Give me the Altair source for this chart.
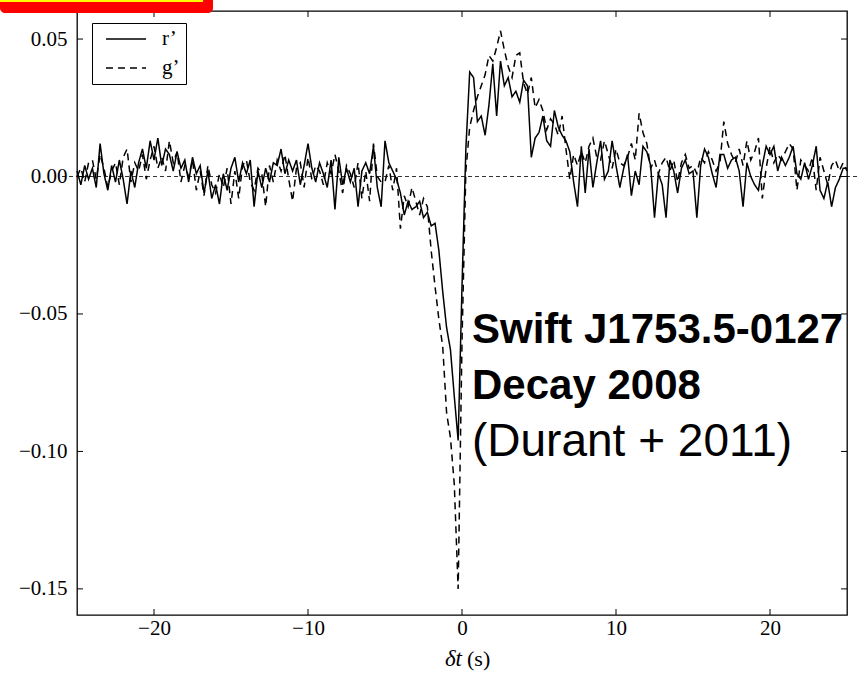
import altair as alt
import pandas as pd

# time sampling (s)
T_START = -25.0
T_STEP = 0.25

# r' light-curve cross-correlation values, units of 1e-3
r_vals = [
    2, -3, 4, -1,
    3, -4, 12, 1,
    -5, 4, -2, 6,
    -1, -10, 2, -4,
    5, 10, 3, 13,
    6, 14, 4, 10,
    8, 2, 9, 3,
    6, -2, 7, 1,
    4, -6, 2, -8,
    -3, -10, 1, -5,
    3, 7, -2, 5,
    1, 6, -11, 2,
    -4, 3, -2, 5,
    4, 10, 1, 6,
    2, 6, -3, 4,
    12, 3, -2, 5,
    1, -4, 6, -12,
    7, -3, 3, -2,
    3, -11, 2, 5,
    1, 11, -4, -11,
    13, 5, 2, -1,
    -6, -14, -9, -12,
    -11, -9, -15, -13,
    -18, -17, -27, -42,
    -55, -63, -80, -96,
    -40, 10, 38, 36,
    20, 22, 15, 26,
    41, 22, 42, 33,
    36, 29, 31, 27,
    35, 33, 7, 14,
    16, 22, 13, 11,
    24, 18, 15, 13,
    9, -2, -11, 11,
    -6, 10, -4, 5,
    13, -1, 2, 13,
    4, -4, 3, 8,
    -7, 2, -3, 11,
    9, 4, -15, 1,
    -3, -15, 6, 2,
    -6, 3, 6, 1,
    2, -15, 4, 10,
    7, 1, -4, 8,
    8, 3, 6, 7,
    2, -11, 5, 0,
    -3, -5, 4, 11,
    8, 11, 2, 7,
    4, 7, 11, 1,
    -1, 5, -1, 4,
    11, -5, -8, -2,
    -11, -4, -1, 3,
    3,
]

# g' values, units of 1e-3
g_vals = [
    0, 3, -2, 5,
    6, -1, 8, 3,
    -4, 2, 5, -3,
    7, 10, -2, 5,
    2, 8, -1, 6,
    11, 3, 7, 2,
    13, 5, 9, -2,
    4, 0, 6, -5,
    2, -7, 4, -3,
    -6, 1, -4, 3,
    -10, 2, -8, 4,
    6, -2, -5, 3,
    1, -11, 4, -2,
    6, 2, 8, -1,
    -9, 3, 5, -4,
    7, -1, 4, 2,
    -3, 5, 1, 8,
    2, -6, 4, 1,
    -4, 5, -8, 2,
    -9, 12, 0, -2,
    -2, 4, -5, 3,
    -19, -7, -11, -4,
    -9, -14, -8, -11,
    -27, -40, -52, -62,
    -86, -95, -112, -150,
    -60, 2, 18, 24,
    29, 33, 37, 44,
    42, 47, 53, 46,
    40, 36, 44, 45,
    34, 30, 36, 25,
    28, 24, 17, 21,
    19, 15, 22, 10,
    -1, 8, 4, 9,
    5, 11, 14, 7,
    6, 13, 8, 3,
    10, 5, 4, 7,
    12, 6, 23, 16,
    12, 3, 6, 1,
    5, 7, 2, 6,
    -2, 5, 8, 3,
    4, 1, 7, 5,
    9, 6, 2, 5,
    20, 12, 8, 5,
    10, 4, 13, 6,
    9, 14, -8, 3,
    11, 5, 8, 6,
    9, 12, 10, -5,
    6, 4, 2, 7,
    -5, 7, 2, -3,
    4, 6, 2, 5,
    2,
]

series_names = ["r\u2019", "g\u2019"]
x_ticks = [-20, -10, 0, 10, 20]
y_ticks = [-0.15, -0.10, -0.05, 0.00, 0.05]
x_domain = [-25, 25]
y_domain = [-0.1595, 0.0602]

annot_lines = ["Swift J1753.5-0127", "Decay 2008", "(Durant + 2011)"]
annot_weights = ["bold", "bold", "normal"]
annot_sizes = [42, 42, 46]

W, H = 770, 604

rows = []
for name, vals in zip(series_names, [r_vals, g_vals]):
    for i, v in enumerate(vals):
        rows.append({"t": round(T_START + T_STEP * i, 3), "v": v / 1000.0, "series": name})
df = pd.DataFrame(rows)

xs = alt.Scale(domain=x_domain, nice=False, zero=False)
ys = alt.Scale(domain=y_domain, nice=False, zero=False)

serif = "Liberation Serif"
sans = "Liberation Sans"

lines = alt.Chart(df).mark_line(color="black", strokeWidth=1.5).encode(
    x=alt.X("t:Q", scale=xs,
            axis=alt.Axis(values=x_ticks, format="d", title=None, ticks=False, domain=False,
                          grid=False, labelFont=serif, labelFontSize=21, labelColor="black",
                          labelPadding=2)),
    y=alt.Y("v:Q", scale=ys,
            axis=alt.Axis(values=y_ticks, format=".2f", title=None, ticks=False, domain=False,
                          grid=False, labelFont=serif, labelFontSize=21, labelColor="black",
                          labelPadding=10)),
    strokeDash=alt.StrokeDash(
        "series:N",
        scale=alt.Scale(domain=series_names, range=[[1, 0], [7, 5]]),
        sort=series_names,
        legend=alt.Legend(title=None, orient="none", legendX=15, legendY=12,
                          fillColor="white", strokeColor="black", padding=6,
                          symbolType="stroke", symbolSize=1600, symbolStrokeWidth=1.4,
                          symbolStrokeColor="black", symbolOffset=7, clipHeight=20,
                          labelFont=serif, labelFontSize=21,
                          labelColor="black", rowPadding=8, labelOffset=15,
                          labelExpr="datum.label + '     '",
                          cornerRadius=0),
    ),
    order="t:Q",
)

one = pd.DataFrame({"k": [0]})

zero_rule = alt.Chart(one).mark_rule(color="black", strokeWidth=0.8, strokeDash=[4, 3]).encode(
    y=alt.datum(0, scale=ys), x=alt.value(-15), x2=alt.value(W + 10)
)

xt = pd.DataFrame({"x": x_ticks})
yt = pd.DataFrame({"y": y_ticks})
tick_style = dict(color="black", strokeWidth=1)
xtick_b = alt.Chart(xt).mark_rule(**tick_style).encode(
    x=alt.X("x:Q", scale=xs), y=alt.value(H), y2=alt.value(H - 6))
xtick_t = alt.Chart(xt).mark_rule(**tick_style).encode(
    x=alt.X("x:Q", scale=xs), y=alt.value(0), y2=alt.value(6))
ytick_l = alt.Chart(yt).mark_rule(**tick_style).encode(
    y=alt.Y("y:Q", scale=ys), x=alt.value(0), x2=alt.value(6))
ytick_r = alt.Chart(yt).mark_rule(**tick_style).encode(
    y=alt.Y("y:Q", scale=ys), x=alt.value(W), x2=alt.value(W - 6))

xtitle1 = alt.Chart(one).mark_text(text="\u03b4t", font=serif, fontStyle="italic", fontSize=23,
                                   align="right", baseline="middle", color="black").encode(
    x=alt.value(385), y=alt.value(H + 44))
xtitle2 = alt.Chart(one).mark_text(text="(s)", font=serif, fontSize=22,
                                   align="left", baseline="middle", color="black").encode(
    x=alt.value(390), y=alt.value(H + 44))

annots = []
for i, (txt, wt, fs) in enumerate(zip(annot_lines, annot_weights, annot_sizes)):
    annots.append(
        alt.Chart(one).mark_text(text=txt, font=sans, fontWeight=wt, fontSize=fs,
                                 align="left", baseline="middle", color="black").encode(
            x=alt.value(395), y=alt.value(319 + 56 * i))
    )

red_box = alt.Chart(one).mark_rect(color="#ff0000", cornerRadius=5).encode(
    x=alt.value(-77), x2=alt.value(136), y=alt.value(-25), y2=alt.value(2))
yellow = alt.Chart(one).mark_rect(color="#ffff00").encode(
    x=alt.value(-77), x2=alt.value(126), y=alt.value(-25), y2=alt.value(-9))

chart = alt.layer(
    zero_rule, lines, xtick_b, xtick_t, ytick_l, ytick_r, xtitle1, xtitle2, *annots,
    red_box, yellow,
).properties(
    width=W, height=H,
    autosize=alt.AutoSizeParams(type="none"),
    padding={"left": 77, "top": 11, "right": 10, "bottom": 65},
).configure(
    background="white",
    view=alt.ViewConfig(stroke="black", strokeWidth=1.3),
)

chart.save("out.html", embed_options={"renderer": "svg", "actions": False})
